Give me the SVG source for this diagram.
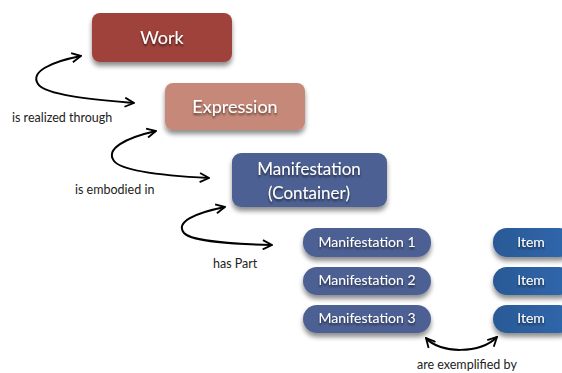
<svg xmlns="http://www.w3.org/2000/svg" width="562" height="373" viewBox="0 0 562 373">
<defs>
<filter id="sh" x="-20%" y="-30%" width="140%" height="180%">
<feGaussianBlur in="SourceAlpha" stdDeviation="2.5"/>
<feOffset dx="0" dy="4" result="b"/>
<feComponentTransfer><feFuncA type="linear" slope="0.45"/></feComponentTransfer>
<feMerge><feMergeNode/><feMergeNode in="SourceGraphic"/></feMerge>
</filter>
<filter id="tsh" x="-10%" y="-30%" width="120%" height="160%">
<feGaussianBlur in="SourceAlpha" stdDeviation="0.8"/>
<feOffset dx="0" dy="1.5"/>
<feComponentTransfer><feFuncA type="linear" slope="0.6"/></feComponentTransfer>
<feMerge><feMergeNode/><feMergeNode in="SourceGraphic"/></feMerge>
</filter>
<linearGradient id="itemg" x1="0" y1="0" x2="1" y2="0">
<stop offset="0" stop-color="#2b5996"/>
<stop offset="1" stop-color="#2f68ad"/>
</linearGradient>
<marker id="ah" viewBox="0 0 12 12" refX="11" refY="6" markerWidth="11" markerHeight="11" markerUnits="userSpaceOnUse" orient="auto-start-reverse">
<path d="M1,1 L11,6 L1,11" fill="none" stroke="#000" stroke-width="2" stroke-linejoin="miter"/>
</marker>
</defs>
<style>
.box{filter:url(#sh)}
.t{font-family:Lato,"Noto Sans",sans-serif;fill:#fff;text-anchor:middle;filter:url(#tsh)}
.lbl{font-family:Lato,"Noto Sans",sans-serif;font-size:12.5px;fill:#222}
.arr{fill:none;stroke:#000;stroke-width:2;marker-start:url(#ah);marker-end:url(#ah)}
</style>
<rect width="562" height="373" fill="#fff"/>
<g id="work">
<rect class="box" x="92" y="13" width="140" height="49" rx="8" fill="#9f423a"/>
<text class="t" x="162" y="44" font-size="18">Work</text>
</g>
<g id="expression">
<rect class="box" x="165" y="83" width="140" height="47" rx="8" fill="#c68979"/>
<text class="t" x="235" y="113" font-size="18">Expression</text>
</g>
<g id="manifestation-container">
<rect class="box" x="232" y="153" width="155" height="54" rx="9" fill="#4d6193"/>
<text class="t" x="309" y="175" font-size="17">Manifestation</text>
<text class="t" x="309" y="199" font-size="17">(Container)</text>
</g>
<g id="manifestation-1">
<rect class="box" x="303" y="228" width="128" height="29" rx="14" fill="#4d6193"/>
<text class="t" x="367" y="247" font-size="14">Manifestation 1</text>
</g>
<g id="manifestation-2">
<rect class="box" x="303" y="267" width="128" height="28" rx="14" fill="#4d6193"/>
<text class="t" x="367" y="285" font-size="14">Manifestation 2</text>
</g>
<g id="manifestation-3">
<rect class="box" x="303" y="305" width="128" height="28" rx="14" fill="#4d6193"/>
<text class="t" x="367" y="323" font-size="14">Manifestation 3</text>
</g>
<g id="item-1">
<rect class="box" x="493" y="228" width="80" height="29" rx="14" fill="url(#itemg)"/>
<text class="t" x="531" y="247" font-size="14">Item</text>
</g>
<g id="item-2">
<rect class="box" x="493" y="267" width="80" height="28" rx="14" fill="url(#itemg)"/>
<text class="t" x="531" y="285" font-size="14">Item</text>
</g>
<g id="item-3">
<rect class="box" x="493" y="305" width="80" height="28" rx="14" fill="url(#itemg)"/>
<text class="t" x="531" y="323" font-size="14">Item</text>
</g>
<g id="connectors">
<path class="arr" d="M81,56 C50,62 30,72 38,84 C46,96 100,100 134,103"/>
<path class="arr" d="M156,131 C125,138 105,149 114,161 C122,172 170,176 209,178"/>
<path class="arr" d="M225,207 C195,213 175,222 184,233 C192,242 235,244 272,245"/>
<path class="arr" d="M426,338 C440,354 480,354 497,337"/>
<text class="lbl" x="12" y="122">is realized through</text>
<text class="lbl" x="75" y="194">is embodied in</text>
<text class="lbl" x="213" y="268">has Part</text>
<text class="lbl" x="417" y="369">are exemplified by</text>
</g>
</svg>
